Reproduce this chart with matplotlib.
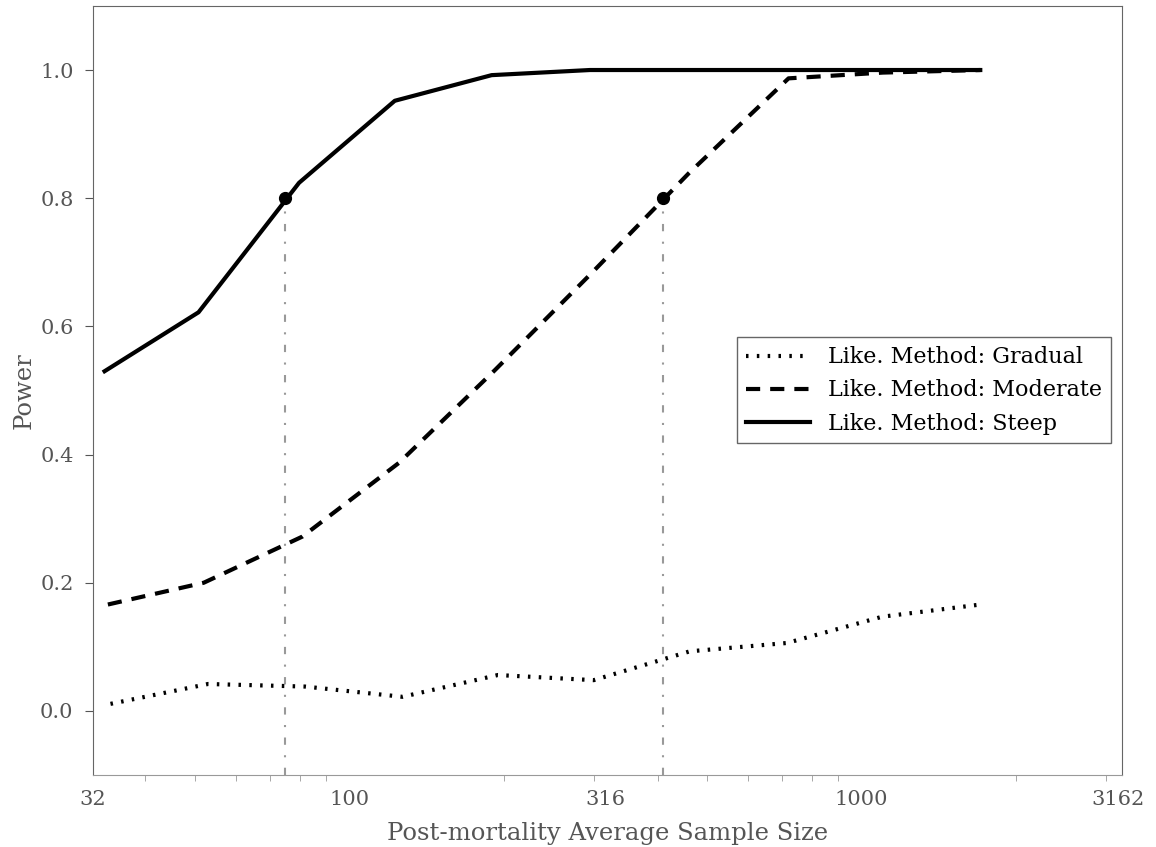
import numpy as np
import matplotlib
matplotlib.use("Agg")
import matplotlib.pyplot as plt
from matplotlib.ticker import FixedLocator, LogLocator, NullFormatter

# Power curves for the likelihood method under three mortality scenarios
gradual_n = [34.2, 53, 82, 127, 195, 300, 462, 715, 1097, 1706]
gradual_power = [0.011, 0.042, 0.038, 0.022, 0.056, 0.048, 0.093, 0.106, 0.147, 0.166]

moderate_n = [33.8, 52, 81, 125, 192, 297, 460, 720, 1100, 1705]
moderate_power = [0.166, 0.200, 0.272, 0.387, 0.531, 0.683, 0.839, 0.987, 0.996, 1.0]

steep_n = [33.3, 50.8, 79.8, 122.7, 189.6, 294.9, 457, 710, 1100, 1704]
steep_power = [0.530, 0.622, 0.824, 0.952, 0.992, 1.0, 1.0, 1.0, 1.0, 1.0]

# sample size at which each curve reaches 80% power
power80_n = [75.0, 409]
power80 = [0.8, 0.8]

xtick_vals = [10**1.5, 10**2, 10**2.5, 10**3, 10**3.5]
xtick_labels = ['32', '100', '316', '1000', '3162']

plt.rcParams['font.family'] = 'DejaVu Serif'
grey = '#555555'

fig, ax = plt.subplots(figsize=(11.56, 8.47), dpi=100)
fig.subplots_adjust(left=0.0805, right=0.971, top=0.993, bottom=0.085)

ax.plot(gradual_n, gradual_power, color='black', linestyle=(0, (0.6, 2.0)), lw=3,
        label='Like. Method: Gradual')
ax.plot(moderate_n, moderate_power, color='black', linestyle=(0, (3.4, 2.4)), lw=3,
        label='Like. Method: Moderate')
ax.plot(steep_n, steep_power, color='black', linestyle='-', lw=3,
        label='Like. Method: Steep')

ax.vlines(power80_n, -0.1, power80, colors='#999999',
          linestyles=[(0, (3.5, 5, 1, 5))], lw=1.5, zorder=1)
ax.plot(power80_n, power80, 'o', color='black', ms=8.5, zorder=5)

ax.set_xscale('log')
ax.set_xlim(10**1.5, 10**3.509)
ax.set_ylim(-0.1, 1.1)

ax.xaxis.set_major_locator(FixedLocator(xtick_vals))
ax.set_xticklabels(xtick_labels)
ax.xaxis.set_minor_locator(LogLocator(base=10, subs=np.arange(2, 10)))
ax.xaxis.set_minor_formatter(NullFormatter())
ax.tick_params(axis='x', which='major', length=0, pad=11, labelsize=15, labelcolor=grey)
ax.tick_params(axis='x', which='minor', length=4, color='#999999')
ax.set_yticks([0.0, 0.2, 0.4, 0.6, 0.8, 1.0])
ax.tick_params(axis='y', length=6, color=grey, labelsize=15, labelcolor=grey, pad=8)

for side in ['left', 'top', 'right']:
    ax.spines[side].set_color('#666666')
ax.spines['bottom'].set_color('#999999')

ax.set_xlabel('Post-mortality Average Sample Size', fontsize=17.5, color=grey, labelpad=9)
ax.set_ylabel('Power', fontsize=17.5, color=grey, labelpad=3)

leg = ax.legend(loc='center right', bbox_to_anchor=(0.989, 0.5), borderaxespad=0,
                fontsize=16, fancybox=False, framealpha=1, edgecolor='#666666',
                handlelength=2.9)

fig.savefig('out.png', dpi=100)
